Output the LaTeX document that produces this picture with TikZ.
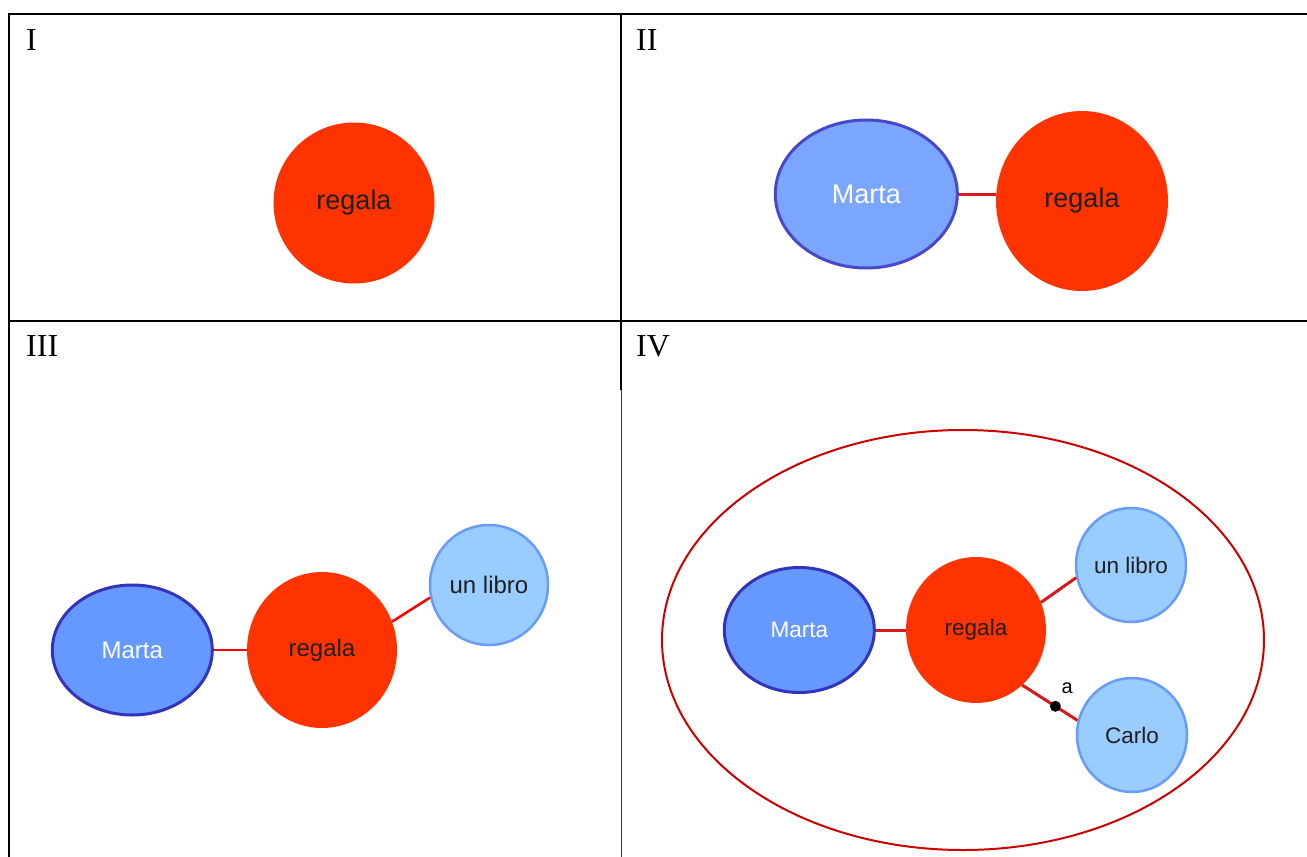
\documentclass[tikz,border=0pt]{standalone}
\usepackage{fontspec}
\setmainfont{Liberation Serif}
\newfontfamily\arialfont{Liberation Sans}
\usepackage{tikz}
\usetikzlibrary{shapes.geometric,positioning}
\definecolor{regalared}{RGB}{255,51,0}
\definecolor{martablue}{RGB}{102,153,255}
\definecolor{martaline}{RGB}{51,51,187}
\definecolor{martalight}{RGB}{122,166,255}
\definecolor{martalightline}{RGB}{72,72,200}
\definecolor{objblue}{RGB}{153,204,255}
\definecolor{objline}{RGB}{105,155,250}
\definecolor{linkred}{RGB}{215,25,25}
\definecolor{framered}{RGB}{204,0,0}

\begin{document}
\begin{tikzpicture}[x=1pt, y=-1pt,
  num/.style={anchor=north west, inner sep=0pt, font=\fontsize{32}{32}\selectfont},
  verb/.style={ellipse, inner sep=0pt, fill=regalared, text=black!88},
  subj/.style={ellipse, inner sep=0pt, draw=martaline, line width=3pt, fill=martablue, text=white},
  obj/.style={ellipse, inner sep=0pt, draw=objline, line width=2.5pt, fill=objblue, text=black!88},
  dims/.style 2 args={minimum width=#1pt, minimum height=#2pt},
  big/.style={font=\arialfont\fontsize{27}{27}\selectfont},
  mid/.style={font=\arialfont\fontsize{24}{24}\selectfont},
  small/.style={font=\arialfont\fontsize{22.5}{22.5}\selectfont},
  link/.style={linkred, line width=3pt},
  dot/.style={circle, fill=black, inner sep=0pt, minimum size=11pt},
  lbl/.style={inner sep=1pt, text=black, font=\arialfont\fontsize{20}{20}\selectfont}]
\useasboundingbox (0,0) rectangle (1307,857);
\fill[white] (0,0) rectangle (1307,857);
\draw[line width=2.8pt] (9,857) -- (9,14) -- (1307,14);
\draw[line width=2.8pt] (9,321) -- (1307,321);
\draw[line width=2.8pt] (621,14) -- (621,390);
\draw[line width=0.8pt, black!80] (621,390) -- (621,857);
\foreach \n/\x/\y in {I/26/29, II/636/29, III/26/335, IV/636/335}
  \node[num] (t\n) at (\x,\y) {\n};

\node[verb, big, dims={161}{161}] (r1) at (354,203) {regala};

\node[verb, big, dims={172}{180}] (r2) at (1082,201) {regala};
\node[subj, big, fill=martalight, draw=martalightline, dims={182}{148}, left=37pt of r2, yshift=7pt] (m2) {Marta};
\draw[link] (m2.east) -- (m2.east -| r2.west);

\node[verb, mid, dims={150}{156}] (r3) at (322,650) {regala};
\node[subj, mid, dims={160}{130}, left=33pt of r3] (m3) {Marta};
\node[obj, mid, dims={118}{120}] (b3) at (489,585) {un libro};
\draw[link, red, line width=2.5pt] (m3) -- (r3);
\draw[link, red, line width=2.5pt] (r3.22) -- (b3.192);

\draw[framered, line width=2pt] (963,640) ellipse [x radius=301pt, y radius=210pt];
\node[verb, small, dims={140}{146}] (r4) at (976,630) {regala};
\node[subj, small, dims={150}{125}, left=30pt of r4] (m4) {Marta};
\node[obj, small, dims={110}{114}] (b4) at (1131,565) {un libro};
\node[obj, small, dims={110}{114}] (c4) at (1132,735) {Carlo};
\draw[link] (m4) -- (r4);
\draw[link] (r4.23) -- (b4.193);
\draw[link] (r4.310) -- node[dot, pos=0.6, label={[lbl, label distance=4pt]70:a}] (d4) {} (c4.165);
\end{tikzpicture}
\end{document}
